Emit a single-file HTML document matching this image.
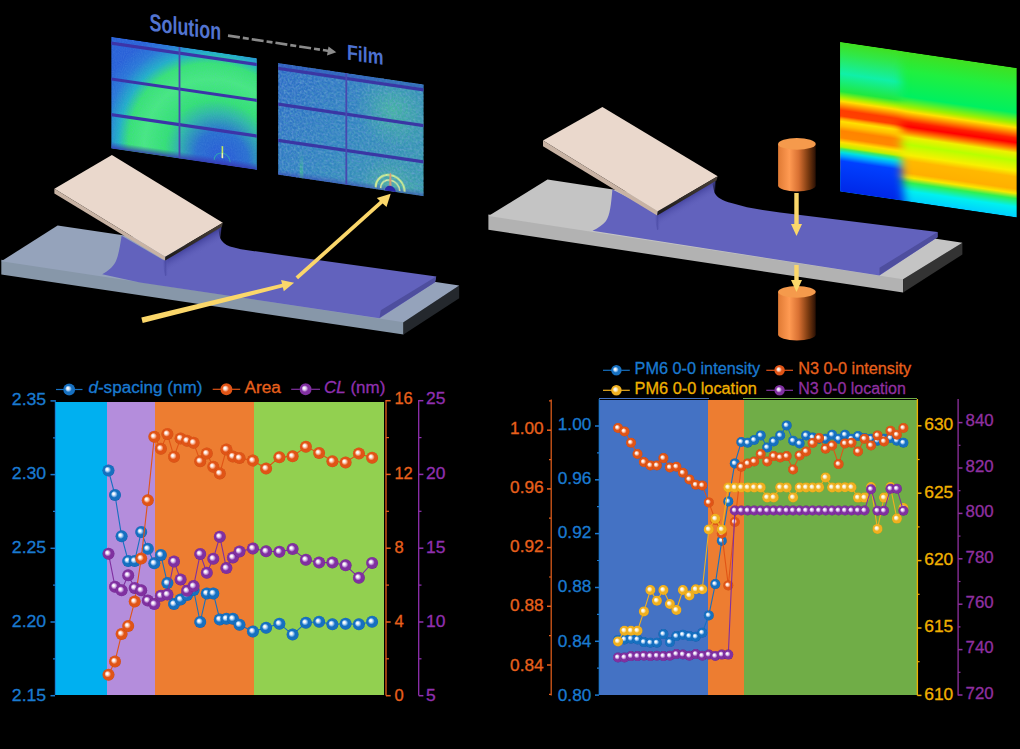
<!DOCTYPE html><html><head><meta charset="utf-8"><style>html,body{margin:0;padding:0;background:#000;}body{width:1020px;height:749px;overflow:hidden;}svg{display:block;}</style></head><body><svg width="1020" height="749" viewBox="0 0 1020 749"><rect width="1020" height="749" fill="#000"/><defs><radialGradient id="mB" cx="0.5" cy="0.5" r="0.5" fx="0.36" fy="0.38"><stop offset="0" stop-color="#ffffff"/><stop offset="0.16" stop-color="#ffffff" stop-opacity="0.95"/><stop offset="0.36" stop-color="#90c0f0"/><stop offset="0.56" stop-color="#1670c0"/><stop offset="0.9" stop-color="#1670c0"/><stop offset="1" stop-color="#0c5aa8"/></radialGradient><radialGradient id="mO" cx="0.5" cy="0.5" r="0.5" fx="0.36" fy="0.38"><stop offset="0" stop-color="#ffffff"/><stop offset="0.16" stop-color="#ffffff" stop-opacity="0.95"/><stop offset="0.36" stop-color="#f8b090"/><stop offset="0.56" stop-color="#e05416"/><stop offset="0.9" stop-color="#e05416"/><stop offset="1" stop-color="#c84810"/></radialGradient><radialGradient id="mP" cx="0.5" cy="0.5" r="0.5" fx="0.36" fy="0.38"><stop offset="0" stop-color="#ffffff"/><stop offset="0.16" stop-color="#ffffff" stop-opacity="0.95"/><stop offset="0.36" stop-color="#c8a0e0"/><stop offset="0.56" stop-color="#8030a0"/><stop offset="0.9" stop-color="#8030a0"/><stop offset="1" stop-color="#6a2088"/></radialGradient><radialGradient id="mG" cx="0.5" cy="0.5" r="0.5" fx="0.36" fy="0.38"><stop offset="0" stop-color="#ffffff"/><stop offset="0.16" stop-color="#ffffff" stop-opacity="0.95"/><stop offset="0.36" stop-color="#f8e0a0"/><stop offset="0.56" stop-color="#f0b020"/><stop offset="0.9" stop-color="#f0b020"/><stop offset="1" stop-color="#e0a010"/></radialGradient><linearGradient id="men1" gradientUnits="userSpaceOnUse" x1="193" y1="243.5" x2="199" y2="254"><stop offset="0" stop-color="#40409a" stop-opacity="0.95"/><stop offset="1" stop-color="#6262bd" stop-opacity="0"/></linearGradient><linearGradient id="fold1" x1="0" y1="0" x2="1" y2="0"><stop offset="0" stop-color="#6262bd" stop-opacity="0"/><stop offset="0.5" stop-color="#4a4aa4" stop-opacity="0.8"/><stop offset="1" stop-color="#6262bd" stop-opacity="0"/></linearGradient><linearGradient id="edg" x1="0" y1="0" x2="0" y2="1"><stop offset="0" stop-color="#4a4038"/><stop offset="1" stop-color="#1c1a1a"/></linearGradient><filter id="noise" x="0" y="0" width="100%" height="100%"><feTurbulence type="fractalNoise" baseFrequency="0.9" numOctaves="1" seed="3" result="t"/><feColorMatrix in="t" type="matrix" values="0 0 0 0 0.16  0 0 0 0 0.4  0 0 0 0 0.85  0 0 0 1.2 -0.45"/></filter><filter id="soft" x="-50%" y="-50%" width="200%" height="200%"><feGaussianBlur stdDeviation="0.5"/></filter><filter id="noiseG" x="0" y="0" width="100%" height="100%"><feTurbulence type="fractalNoise" baseFrequency="0.5" numOctaves="2" seed="7" result="t"/><feColorMatrix in="t" type="matrix" values="0 0 0 0 0.22  0 0 0 0 0.66  0 0 0 0 0.56  2.4 0 0 0 -1.0"/></filter><filter id="noiseB" x="0" y="0" width="100%" height="100%"><feTurbulence type="fractalNoise" baseFrequency="0.5" numOctaves="2" seed="11" result="t"/><feColorMatrix in="t" type="matrix" values="0 0 0 0 0.16  0 0 0 0 0.32  0 0 0 0 0.74  2.4 0 0 0 -1.0"/></filter><radialGradient id="ring1" gradientUnits="userSpaceOnUse" cx="111" cy="105" r="130"><stop offset="0" stop-color="#2a5ad8"/><stop offset="0.2" stop-color="#2a70d0"/><stop offset="0.34" stop-color="#30b8a8"/><stop offset="0.44" stop-color="#34e274"/><stop offset="0.6" stop-color="#48ea80"/><stop offset="0.72" stop-color="#38e474"/><stop offset="0.8" stop-color="#22b0c8"/><stop offset="0.9" stop-color="#2a78d8"/><stop offset="1" stop-color="#2a62d8"/></radialGradient><linearGradient id="botband" x1="0" y1="0" x2="0" y2="1"><stop offset="0" stop-color="#3838b8" stop-opacity="0"/><stop offset="1" stop-color="#3838b0" stop-opacity="0.9"/></linearGradient><linearGradient id="p2base" gradientUnits="userSpaceOnUse" x1="0" y1="0" x2="146" y2="112"><stop offset="0" stop-color="#2c6ac8"/><stop offset="0.5" stop-color="#3184c0"/><stop offset="1" stop-color="#3a9eac"/></linearGradient><radialGradient id="glow2" gradientUnits="userSpaceOnUse" cx="115" cy="30" r="38"><stop offset="0" stop-color="#50d090" stop-opacity="0.6"/><stop offset="1" stop-color="#50d090" stop-opacity="0"/></radialGradient><radialGradient id="glow3" gradientUnits="userSpaceOnUse" cx="112" cy="108" r="30"><stop offset="0" stop-color="#60c890" stop-opacity="0.5"/><stop offset="1" stop-color="#60c890" stop-opacity="0"/></radialGradient><linearGradient id="strk" x1="0" y1="0" x2="0" y2="1"><stop offset="0" stop-color="#40d080" stop-opacity="0"/><stop offset="1" stop-color="#40d080" stop-opacity="0.7"/></linearGradient><linearGradient id="men2" gradientUnits="userSpaceOnUse" x1="686" y1="197" x2="692" y2="207.5"><stop offset="0" stop-color="#40409a" stop-opacity="0.95"/><stop offset="1" stop-color="#6262bd" stop-opacity="0"/></linearGradient><linearGradient id="cyl" x1="0" y1="0" x2="1" y2="0"><stop offset="0" stop-color="#e07a34"/><stop offset="0.3" stop-color="#ff9a52"/><stop offset="0.55" stop-color="#d87032"/><stop offset="0.8" stop-color="#7a3a10"/><stop offset="1" stop-color="#2a1004"/></linearGradient><linearGradient id="hl" x1="0" y1="0" x2="0" y2="1"><stop offset="0" stop-color="#40e020"/><stop offset="0.076" stop-color="#30e848"/><stop offset="0.21" stop-color="#10f0a8"/><stop offset="0.33" stop-color="#20e840"/><stop offset="0.372" stop-color="#b0f000"/><stop offset="0.395" stop-color="#ffe000"/><stop offset="0.425" stop-color="#ff9000"/><stop offset="0.456" stop-color="#ff3c00"/><stop offset="0.494" stop-color="#ff4000"/><stop offset="0.512" stop-color="#ffa000"/><stop offset="0.53" stop-color="#ffe000"/><stop offset="0.56" stop-color="#ffc000"/><stop offset="0.593" stop-color="#ff8400"/><stop offset="0.64" stop-color="#ff8800"/><stop offset="0.67" stop-color="#ffe000"/><stop offset="0.7" stop-color="#c0f000"/><stop offset="0.714" stop-color="#40e860"/><stop offset="0.737" stop-color="#00e0e0"/><stop offset="0.762" stop-color="#00a0ff"/><stop offset="0.795" stop-color="#0040ff"/><stop offset="1" stop-color="#0028e8"/></linearGradient><linearGradient id="hr" x1="0" y1="0" x2="0" y2="1"><stop offset="0" stop-color="#40e020"/><stop offset="0.13" stop-color="#20f040"/><stop offset="0.3" stop-color="#00f060"/><stop offset="0.37" stop-color="#a0f000"/><stop offset="0.4" stop-color="#ffe000"/><stop offset="0.43" stop-color="#ff9000"/><stop offset="0.47" stop-color="#ff2000"/><stop offset="0.5" stop-color="#ff0000"/><stop offset="0.54" stop-color="#ff8000"/><stop offset="0.57" stop-color="#f0f000"/><stop offset="0.62" stop-color="#b8ff00"/><stop offset="0.69" stop-color="#f8f000"/><stop offset="0.73" stop-color="#ffb800"/><stop offset="0.81" stop-color="#ffb000"/><stop offset="0.84" stop-color="#f8e800"/><stop offset="0.875" stop-color="#30f050"/><stop offset="0.93" stop-color="#00f0f0"/><stop offset="1" stop-color="#00d0ff"/></linearGradient><linearGradient id="hm" gradientUnits="userSpaceOnUse" x1="57" y1="0" x2="67" y2="-0.4"><stop offset="0" stop-color="#fff"/><stop offset="1" stop-color="#000"/></linearGradient><filter id="hblur" x="-20%" y="-20%" width="140%" height="140%"><feGaussianBlur stdDeviation="4.5"/></filter><mask id="hmask" maskUnits="userSpaceOnUse" x="-10" y="-10" width="196.7" height="169.5"><path d="M-10,-10 L61,-10 L61,92.7 C61,119.6 63,128.6 65,159.5 L-10,159.5 Z" fill="#fff" filter="url(#hblur)"/></mask></defs><polygon points="1.3,259.8 403.5,320.7 403.5,334.6 1.3,274.5" fill="#8797a9"/>
<polygon points="403.5,322.2 459.2,285.5 459.2,298.2 403.5,334.6" fill="#24282d"/>
<polygon points="57.6,225.4 459.2,285.5 403.5,322.2 1.3,261.3" fill="#95a3bb"/>
<path d="M102.2,274.2 C108,271 113,267 115.5,262 C118.5,256 120,246 121.6,235.8 L165,261 L219,229 L218.6,230.2 C219.3,234 219.6,236 220.2,238.2 C222,242 225,244.5 230,246.6 L241,249.3 L436.2,276.6 L435,282.3 L379.5,318.2 L140,282.4 Z" fill="#6262bd"/>
<polygon points="380.8,310.3 436.2,276.6 435.0,282.3 379.5,317.8" fill="#4e4e9e"/>
<polygon points="164.5,259 221.5,226 220.5,240 166,277" fill="url(#men1)"/>
<path d="M162,260 L168,258 L168.5,275 L165,276 Z" fill="url(#fold1)"/>
<polygon points="111.9,155.0 222.8,222.7 165.2,256.8 54.4,188.8" fill="#ead8cc"/>
<polygon points="54.4,188.8 165.2,256.8 165.2,260.6 54.4,193.6" fill="#c8b3a4"/>
<polygon points="165.2,256.8 222.8,222.7 221.9,226.8 165.2,260.6" fill="url(#edg)"/>
<polygon points="142.7,323.0 141.3,317.6 283.1,283.5 283.9,287.1" fill="#fbd76a"/>
<polygon points="294.1,282.7 283.8,291.2 281.1,280.0" fill="#fbd76a"/>
<line x1="296.8" y1="277.9" x2="383" y2="200.7" stroke="#fbd76a" stroke-width="3.8"/>
<polygon points="390.7,193.8 386.5,207 376.8,198" fill="#fbd76a"/>
<g transform="matrix(1,0.1469,0,1,111.2,36.8)">
<clipPath id="pn1c"><rect x="0" y="0" width="145.7" height="111.7"/></clipPath>
<g clip-path="url(#pn1c)">
<rect x="0" y="0" width="145.7" height="111.7" fill="url(#ring1)"/>
<rect x="0" y="0" width="145.7" height="111.7" filter="url(#noise)" opacity="0.4"/>
<rect x="0" y="104.7" width="145.7" height="7" fill="url(#botband)"/>
<rect x="0" y="4.699999999999999" width="145.7" height="3.2" fill="#3c34a8"/>
<rect x="0" y="40.6" width="145.7" height="3.2" fill="#3c34a8"/>
<rect x="0" y="76.30000000000001" width="145.7" height="3.2" fill="#3c34a8"/>
<rect x="67.4" y="0" width="1.8" height="111.7" fill="#4848b0"/>
<path d="M103,108 A8,8 0 0 1 119,108" fill="none" stroke="#30c8a0" stroke-width="1" opacity="0.6"/>
<rect x="110.4" y="93" width="1.6" height="12" fill="#c0e860"/>
<rect x="110.6" y="100" width="1.2" height="5" fill="#f0f0c0"/>
</g></g>
<g transform="matrix(1,0.1477,0,1,278.1,63.0)">
<clipPath id="pn2c"><rect x="0" y="0" width="145.6" height="111.8"/></clipPath>
<g clip-path="url(#pn2c)">
<rect x="0" y="0" width="145.6" height="111.8" fill="url(#p2base)"/>
<rect x="0" y="0" width="145.6" height="111.8" fill="url(#glow2)"/>
<rect x="0" y="0" width="145.6" height="111.8" fill="url(#glow3)"/>
<rect x="21.5" y="84" width="3.5" height="28" fill="url(#strk)" filter="url(#soft)"/>
<rect x="0" y="0" width="145.6" height="111.8" filter="url(#noiseG)" opacity="0.45"/>
<rect x="0" y="0" width="145.6" height="111.8" filter="url(#noiseB)" opacity="0.6"/>
<rect x="0" y="105.8" width="145.6" height="6" fill="url(#botband)" opacity="0.6"/>
<rect x="0" y="0" width="145.6" height="4" fill="#2c50b8" opacity="0.5"/>
<rect x="0" y="3.8000000000000003" width="145.6" height="3.2" fill="#3a36a4"/>
<rect x="0" y="39.5" width="145.6" height="3.2" fill="#3a36a4"/>
<rect x="0" y="75.80000000000001" width="145.6" height="3.2" fill="#3a36a4"/>
<rect x="67.3" y="0" width="1.8" height="111.8" fill="#4848b0"/>
<g filter="url(#soft)"><path d="M97.6,110 A14.4,14.4 0 0 1 126.4,110" fill="none" stroke="#e8f890" stroke-width="2" opacity="0.85"/><path d="M102.5,110 A9.5,9.5 0 0 1 121.5,110" fill="none" stroke="#f0f8a0" stroke-width="1.6" opacity="0.85"/></g>
<path d="M111,110 L111.4,95 L112.4,93 L113.2,95 L113.4,110 Z" fill="#d09878"/>
<path d="M106.7,111.8 A5.5,5.5 0 0 1 117.7,111.8 Z" fill="#2c28a8"/>
</g></g>
<g transform="matrix(1,0.132,0,1.19,149.6,10)"><text x="0" y="17.3" font-family='"Liberation Sans", sans-serif' font-weight="bold" font-size="20.5" fill="#5274d0" textLength="71.5" lengthAdjust="spacingAndGlyphs">Solution</text></g>
<g transform="matrix(1,0.147,0,1.08,347,10)"><text x="0" y="45.9" font-family='"Liberation Sans", sans-serif' font-weight="bold" font-size="20" fill="#4c70d0" textLength="36.5" lengthAdjust="spacingAndGlyphs">Film</text></g>
<line x1="228" y1="35.6" x2="329" y2="51" stroke="#8a8a8a" stroke-width="2.6" stroke-dasharray="12,3,6,3"/>
<polygon points="336.3,52.2 327,55.5 328.5,46.5" fill="#8c8c8c"/>
<polygon points="488.4,214.5 903.1,277.8 903.1,292.6 488.4,229.8" fill="#b2b2b2"/>
<polygon points="903.1,279.3 962.4,242.7 962.4,254.4 903.1,292.6" fill="#333333"/>
<polygon points="547.5,179.5 962.4,242.7 903.1,279.3 488.4,216.0" fill="#c4c4c4"/>
<path d="M592.5,230.8 C598,228 603,225 606,221 C610,215 611,205 612.4,189.5 L657.2,212.2 L714,180 L712.5,184 C713.5,188 714,191 714.5,192.7 C716,195.5 717.5,197 719.6,198.2 C724,201 727,202 731.4,202.9 L747,207.3 L762.7,210 L780,212.4 L937.5,232.1 L937.5,237.2 L879.5,275.5 Z" fill="#6262bd"/>
<polygon points="879.5,267.8 937.5,232.1 937.5,237.2 879.5,275.0" fill="#4e4e9e"/>
<polygon points="656.8,214 715.5,179.5 715,195 658,231" fill="url(#men2)"/>
<path d="M654,214 L660,212 L660.5,229 L657,230 Z" fill="url(#fold1)"/>
<polygon points="602.4,107.1 717.7,176.3 657.7,211.2 543.0,140.6" fill="#ead8cc"/>
<polygon points="543.0,140.6 657.7,211.2 657.2,215.6 543.0,146.2" fill="#c8b3a4"/>
<polygon points="657.7,211.2 717.7,176.3 716.5,180.6 657.2,215.6" fill="url(#edg)"/>
<path d="M778.1,143.9 L778.1,185.6 A18.80000000000001,5.9 0 0 0 815.7,185.6 L815.7,143.9 Z" fill="url(#cyl)"/>
<ellipse cx="796.9000000000001" cy="143.9" rx="18.80000000000001" ry="5.9" fill="#f59a4c"/>
<path d="M778.1,291.8 L778.1,334.5 A18.80000000000001,5.9 0 0 0 815.7,334.5 L815.7,291.8 Z" fill="url(#cyl)"/>
<ellipse cx="796.9000000000001" cy="291.8" rx="18.80000000000001" ry="5.9" fill="#f59a4c"/>
<rect x="794.3" y="193" width="4.4" height="32" fill="#fbd76a"/>
<polygon points="791,224 802,224 796.5,236" fill="#fbd76a"/>
<rect x="794.3" y="265" width="4.4" height="16" fill="#fbd76a"/>
<polygon points="791,280 802,280 796.5,292" fill="#fbd76a"/>
<g transform="matrix(1,0.1466,0,1,840.1,42.0)">
<clipPath id="hm1c"><rect x="0" y="0" width="176.7" height="149.5"/></clipPath>
<g clip-path="url(#hm1c)">
<rect x="0" y="0" width="176.7" height="149.5" fill="url(#hr)"/>
<rect x="0" y="0" width="176.7" height="149.5" fill="url(#hl)" mask="url(#hmask)"/>
</g></g>
<g shape-rendering="crispEdges"><rect x="55" y="402" width="53" height="293" fill="#00b0f0"/><rect x="107" y="402" width="48" height="293" fill="#b48ddc"/><rect x="154.5" y="402" width="99.5" height="293" fill="#ed7d31"/><rect x="253.5" y="402" width="130.5" height="293" fill="#92d050"/></g>
<line x1="55.3" y1="400" x2="55.3" y2="695" stroke="#1a7ad0" stroke-width="1"/>
<line x1="50.5" y1="400.9" x2="55" y2="400.9" stroke="#1a7ad0" stroke-width="1.5"/>
<text x="46.2" y="404.6561016949152" font-family='"Liberation Sans", sans-serif' font-size="16" fill="#1a7ad0" stroke="#1a7ad0" stroke-width="0.3" text-anchor="end" textLength="34.4" lengthAdjust="spacingAndGlyphs" font-weight="normal">2.35</text>
<line x1="50.5" y1="474.6" x2="55" y2="474.6" stroke="#1a7ad0" stroke-width="1.5"/>
<text x="46.2" y="478.8557627118644" font-family='"Liberation Sans", sans-serif' font-size="16" fill="#1a7ad0" stroke="#1a7ad0" stroke-width="0.3" text-anchor="end" textLength="34.4" lengthAdjust="spacingAndGlyphs" font-weight="normal">2.30</text>
<line x1="50.5" y1="548.3" x2="55" y2="548.3" stroke="#1a7ad0" stroke-width="1.5"/>
<text x="46.2" y="553.0554237288135" font-family='"Liberation Sans", sans-serif' font-size="16" fill="#1a7ad0" stroke="#1a7ad0" stroke-width="0.3" text-anchor="end" textLength="34.4" lengthAdjust="spacingAndGlyphs" font-weight="normal">2.25</text>
<line x1="50.5" y1="622.0" x2="55" y2="622.0" stroke="#1a7ad0" stroke-width="1.5"/>
<text x="46.2" y="627.2550847457627" font-family='"Liberation Sans", sans-serif' font-size="16" fill="#1a7ad0" stroke="#1a7ad0" stroke-width="0.3" text-anchor="end" textLength="34.4" lengthAdjust="spacingAndGlyphs" font-weight="normal">2.20</text>
<line x1="50.5" y1="695.7" x2="55" y2="695.7" stroke="#1a7ad0" stroke-width="1.5"/>
<text x="46.2" y="701.4547457627119" font-family='"Liberation Sans", sans-serif' font-size="16" fill="#1a7ad0" stroke="#1a7ad0" stroke-width="0.3" text-anchor="end" textLength="34.4" lengthAdjust="spacingAndGlyphs" font-weight="normal">2.15</text>
<line x1="53" y1="437.8" x2="55" y2="437.8" stroke="#1a7ad0" stroke-width="1.2"/>
<line x1="53" y1="511.4" x2="55" y2="511.4" stroke="#1a7ad0" stroke-width="1.2"/>
<line x1="53" y1="585.1" x2="55" y2="585.1" stroke="#1a7ad0" stroke-width="1.2"/>
<line x1="53" y1="658.8" x2="55" y2="658.8" stroke="#1a7ad0" stroke-width="1.2"/>
<line x1="386" y1="400" x2="386" y2="695.5" stroke="#e8601c" stroke-width="1.3"/>
<line x1="386" y1="400.7" x2="390.7" y2="400.7" stroke="#e8601c" stroke-width="1.5"/>
<text x="394.4" y="404.45474576271187" font-family='"Liberation Sans", sans-serif' font-size="16" fill="#e8601c" stroke="#e8601c" stroke-width="0.3" text-anchor="start" textLength="18.3" lengthAdjust="spacingAndGlyphs" font-weight="normal">16</text>
<line x1="386" y1="474.4" x2="390.7" y2="474.4" stroke="#e8601c" stroke-width="1.5"/>
<text x="394.4" y="478.70474576271187" font-family='"Liberation Sans", sans-serif' font-size="16" fill="#e8601c" stroke="#e8601c" stroke-width="0.3" text-anchor="start" textLength="18.3" lengthAdjust="spacingAndGlyphs" font-weight="normal">12</text>
<line x1="386" y1="548.2" x2="390.7" y2="548.2" stroke="#e8601c" stroke-width="1.5"/>
<text x="394.4" y="552.9547457627119" font-family='"Liberation Sans", sans-serif' font-size="16" fill="#e8601c" stroke="#e8601c" stroke-width="0.3" text-anchor="start" textLength="9.2" lengthAdjust="spacingAndGlyphs" font-weight="normal">8</text>
<line x1="386" y1="622.0" x2="390.7" y2="622.0" stroke="#e8601c" stroke-width="1.5"/>
<text x="394.4" y="627.2047457627119" font-family='"Liberation Sans", sans-serif' font-size="16" fill="#e8601c" stroke="#e8601c" stroke-width="0.3" text-anchor="start" textLength="9.2" lengthAdjust="spacingAndGlyphs" font-weight="normal">4</text>
<line x1="386" y1="695.7" x2="390.7" y2="695.7" stroke="#e8601c" stroke-width="1.5"/>
<text x="394.4" y="701.4547457627119" font-family='"Liberation Sans", sans-serif' font-size="16" fill="#e8601c" stroke="#e8601c" stroke-width="0.3" text-anchor="start" textLength="9.2" lengthAdjust="spacingAndGlyphs" font-weight="normal">0</text>
<line x1="386" y1="437.6" x2="389" y2="437.6" stroke="#e8601c" stroke-width="1.2"/>
<line x1="386" y1="511.3" x2="389" y2="511.3" stroke="#e8601c" stroke-width="1.2"/>
<line x1="386" y1="585.1" x2="389" y2="585.1" stroke="#e8601c" stroke-width="1.2"/>
<line x1="386" y1="658.8" x2="389" y2="658.8" stroke="#e8601c" stroke-width="1.2"/>
<line x1="418.7" y1="400" x2="418.7" y2="695.5" stroke="#9030b0" stroke-width="1.3"/>
<line x1="418.7" y1="400.7" x2="423.4" y2="400.7" stroke="#9030b0" stroke-width="1.5"/>
<text x="426" y="404.45474576271187" font-family='"Liberation Sans", sans-serif' font-size="16" fill="#9030b0" stroke="#9030b0" stroke-width="0.3" text-anchor="start" textLength="19.4" lengthAdjust="spacingAndGlyphs" font-weight="normal">25</text>
<line x1="418.7" y1="474.4" x2="423.4" y2="474.4" stroke="#9030b0" stroke-width="1.5"/>
<text x="426" y="478.70474576271187" font-family='"Liberation Sans", sans-serif' font-size="16" fill="#9030b0" stroke="#9030b0" stroke-width="0.3" text-anchor="start" textLength="19.4" lengthAdjust="spacingAndGlyphs" font-weight="normal">20</text>
<line x1="418.7" y1="548.2" x2="423.4" y2="548.2" stroke="#9030b0" stroke-width="1.5"/>
<text x="426" y="552.9547457627119" font-family='"Liberation Sans", sans-serif' font-size="16" fill="#9030b0" stroke="#9030b0" stroke-width="0.3" text-anchor="start" textLength="19.4" lengthAdjust="spacingAndGlyphs" font-weight="normal">15</text>
<line x1="418.7" y1="622.0" x2="423.4" y2="622.0" stroke="#9030b0" stroke-width="1.5"/>
<text x="426" y="627.2047457627119" font-family='"Liberation Sans", sans-serif' font-size="16" fill="#9030b0" stroke="#9030b0" stroke-width="0.3" text-anchor="start" textLength="19.4" lengthAdjust="spacingAndGlyphs" font-weight="normal">10</text>
<line x1="418.7" y1="695.7" x2="423.4" y2="695.7" stroke="#9030b0" stroke-width="1.5"/>
<text x="426" y="701.4547457627119" font-family='"Liberation Sans", sans-serif' font-size="16" fill="#9030b0" stroke="#9030b0" stroke-width="0.3" text-anchor="start" textLength="9.7" lengthAdjust="spacingAndGlyphs" font-weight="normal">5</text>
<line x1="418.7" y1="437.6" x2="421.5" y2="437.6" stroke="#9030b0" stroke-width="1.2"/>
<line x1="418.7" y1="511.3" x2="421.5" y2="511.3" stroke="#9030b0" stroke-width="1.2"/>
<line x1="418.7" y1="585.1" x2="421.5" y2="585.1" stroke="#9030b0" stroke-width="1.2"/>
<line x1="418.7" y1="658.8" x2="421.5" y2="658.8" stroke="#9030b0" stroke-width="1.2"/>
<polyline points="108.5,470.5 115.0,495.0 121.6,536.2 128.2,560.9 134.7,560.9 141.2,532.0 147.8,548.8 154.3,563.3 160.9,554.9 167.4,583.1 174.0,604.0 180.6,599.4 187.1,595.0 193.6,590.0 200.2,622.0 206.8,593.4 213.3,593.4 219.8,619.4 226.4,618.7 232.9,618.7 239.5,624.7 252.9,631.4 266.1,627.7 279.4,623.7 292.6,634.6 305.9,622.8 319.1,621.8 332.4,624.3 345.6,623.7 358.9,624.3 372.1,621.8" fill="none" stroke="#1670c0" stroke-width="1.1"/>
<circle cx="108.5" cy="470.5" r="6" fill="url(#mB)"/>
<circle cx="115.0" cy="495.0" r="6" fill="url(#mB)"/>
<circle cx="121.6" cy="536.2" r="6" fill="url(#mB)"/>
<circle cx="128.2" cy="560.9" r="6" fill="url(#mB)"/>
<circle cx="134.7" cy="560.9" r="6" fill="url(#mB)"/>
<circle cx="141.2" cy="532.0" r="6" fill="url(#mB)"/>
<circle cx="147.8" cy="548.8" r="6" fill="url(#mB)"/>
<circle cx="154.3" cy="563.3" r="6" fill="url(#mB)"/>
<circle cx="160.9" cy="554.9" r="6" fill="url(#mB)"/>
<circle cx="167.4" cy="583.1" r="6" fill="url(#mB)"/>
<circle cx="174.0" cy="604.0" r="6" fill="url(#mB)"/>
<circle cx="180.6" cy="599.4" r="6" fill="url(#mB)"/>
<circle cx="187.1" cy="595.0" r="6" fill="url(#mB)"/>
<circle cx="193.6" cy="590.0" r="6" fill="url(#mB)"/>
<circle cx="200.2" cy="622.0" r="6" fill="url(#mB)"/>
<circle cx="206.8" cy="593.4" r="6" fill="url(#mB)"/>
<circle cx="213.3" cy="593.4" r="6" fill="url(#mB)"/>
<circle cx="219.8" cy="619.4" r="6" fill="url(#mB)"/>
<circle cx="226.4" cy="618.7" r="6" fill="url(#mB)"/>
<circle cx="232.9" cy="618.7" r="6" fill="url(#mB)"/>
<circle cx="239.5" cy="624.7" r="6" fill="url(#mB)"/>
<circle cx="252.9" cy="631.4" r="6" fill="url(#mB)"/>
<circle cx="266.1" cy="627.7" r="6" fill="url(#mB)"/>
<circle cx="279.4" cy="623.7" r="6" fill="url(#mB)"/>
<circle cx="292.6" cy="634.6" r="6" fill="url(#mB)"/>
<circle cx="305.9" cy="622.8" r="6" fill="url(#mB)"/>
<circle cx="319.1" cy="621.8" r="6" fill="url(#mB)"/>
<circle cx="332.4" cy="624.3" r="6" fill="url(#mB)"/>
<circle cx="345.6" cy="623.7" r="6" fill="url(#mB)"/>
<circle cx="358.9" cy="624.3" r="6" fill="url(#mB)"/>
<circle cx="372.1" cy="621.8" r="6" fill="url(#mB)"/>
<polyline points="108.5,674.8 115.0,661.4 121.6,634.0 128.2,626.0 134.7,601.5 141.2,558.5 147.8,500.3 154.3,436.8 160.9,448.7 167.4,434.0 174.0,456.7 180.6,438.4 187.1,440.7 193.6,442.7 200.2,461.2 206.8,453.5 213.3,466.7 219.8,473.4 226.4,449.4 232.9,456.5 239.5,458.0 252.9,460.6 266.1,468.5 279.4,457.3 292.6,456.3 305.9,446.8 319.1,453.0 332.4,461.2 345.6,462.5 358.9,453.6 372.1,457.7" fill="none" stroke="#e05416" stroke-width="1.1"/>
<circle cx="108.5" cy="674.8" r="6" fill="url(#mO)"/>
<circle cx="115.0" cy="661.4" r="6" fill="url(#mO)"/>
<circle cx="121.6" cy="634.0" r="6" fill="url(#mO)"/>
<circle cx="128.2" cy="626.0" r="6" fill="url(#mO)"/>
<circle cx="134.7" cy="601.5" r="6" fill="url(#mO)"/>
<circle cx="141.2" cy="558.5" r="6" fill="url(#mO)"/>
<circle cx="147.8" cy="500.3" r="6" fill="url(#mO)"/>
<circle cx="154.3" cy="436.8" r="6" fill="url(#mO)"/>
<circle cx="160.9" cy="448.7" r="6" fill="url(#mO)"/>
<circle cx="167.4" cy="434.0" r="6" fill="url(#mO)"/>
<circle cx="174.0" cy="456.7" r="6" fill="url(#mO)"/>
<circle cx="180.6" cy="438.4" r="6" fill="url(#mO)"/>
<circle cx="187.1" cy="440.7" r="6" fill="url(#mO)"/>
<circle cx="193.6" cy="442.7" r="6" fill="url(#mO)"/>
<circle cx="200.2" cy="461.2" r="6" fill="url(#mO)"/>
<circle cx="206.8" cy="453.5" r="6" fill="url(#mO)"/>
<circle cx="213.3" cy="466.7" r="6" fill="url(#mO)"/>
<circle cx="219.8" cy="473.4" r="6" fill="url(#mO)"/>
<circle cx="226.4" cy="449.4" r="6" fill="url(#mO)"/>
<circle cx="232.9" cy="456.5" r="6" fill="url(#mO)"/>
<circle cx="239.5" cy="458.0" r="6" fill="url(#mO)"/>
<circle cx="252.9" cy="460.6" r="6" fill="url(#mO)"/>
<circle cx="266.1" cy="468.5" r="6" fill="url(#mO)"/>
<circle cx="279.4" cy="457.3" r="6" fill="url(#mO)"/>
<circle cx="292.6" cy="456.3" r="6" fill="url(#mO)"/>
<circle cx="305.9" cy="446.8" r="6" fill="url(#mO)"/>
<circle cx="319.1" cy="453.0" r="6" fill="url(#mO)"/>
<circle cx="332.4" cy="461.2" r="6" fill="url(#mO)"/>
<circle cx="345.6" cy="462.5" r="6" fill="url(#mO)"/>
<circle cx="358.9" cy="453.6" r="6" fill="url(#mO)"/>
<circle cx="372.1" cy="457.7" r="6" fill="url(#mO)"/>
<polyline points="108.5,553.7 115.0,586.7 121.6,590.3 128.2,575.3 134.7,587.9 141.2,590.3 147.8,600.5 154.3,604.1 160.9,595.7 167.4,594.5 174.0,561.4 180.6,579.4 187.1,590.8 193.6,586.1 200.2,554.0 206.8,572.8 213.3,558.7 219.8,536.7 226.4,568.1 232.9,557.4 239.5,551.4 252.9,548.4 266.1,551.3 279.4,551.7 292.6,549.1 305.9,559.7 319.1,562.6 332.4,562.6 345.6,565.3 358.9,577.7 372.1,563.0" fill="none" stroke="#8030a0" stroke-width="1.1"/>
<circle cx="108.5" cy="553.7" r="6" fill="url(#mP)"/>
<circle cx="115.0" cy="586.7" r="6" fill="url(#mP)"/>
<circle cx="121.6" cy="590.3" r="6" fill="url(#mP)"/>
<circle cx="128.2" cy="575.3" r="6" fill="url(#mP)"/>
<circle cx="134.7" cy="587.9" r="6" fill="url(#mP)"/>
<circle cx="141.2" cy="590.3" r="6" fill="url(#mP)"/>
<circle cx="147.8" cy="600.5" r="6" fill="url(#mP)"/>
<circle cx="154.3" cy="604.1" r="6" fill="url(#mP)"/>
<circle cx="160.9" cy="595.7" r="6" fill="url(#mP)"/>
<circle cx="167.4" cy="594.5" r="6" fill="url(#mP)"/>
<circle cx="174.0" cy="561.4" r="6" fill="url(#mP)"/>
<circle cx="180.6" cy="579.4" r="6" fill="url(#mP)"/>
<circle cx="187.1" cy="590.8" r="6" fill="url(#mP)"/>
<circle cx="193.6" cy="586.1" r="6" fill="url(#mP)"/>
<circle cx="200.2" cy="554.0" r="6" fill="url(#mP)"/>
<circle cx="206.8" cy="572.8" r="6" fill="url(#mP)"/>
<circle cx="213.3" cy="558.7" r="6" fill="url(#mP)"/>
<circle cx="219.8" cy="536.7" r="6" fill="url(#mP)"/>
<circle cx="226.4" cy="568.1" r="6" fill="url(#mP)"/>
<circle cx="232.9" cy="557.4" r="6" fill="url(#mP)"/>
<circle cx="239.5" cy="551.4" r="6" fill="url(#mP)"/>
<circle cx="252.9" cy="548.4" r="6" fill="url(#mP)"/>
<circle cx="266.1" cy="551.3" r="6" fill="url(#mP)"/>
<circle cx="279.4" cy="551.7" r="6" fill="url(#mP)"/>
<circle cx="292.6" cy="549.1" r="6" fill="url(#mP)"/>
<circle cx="305.9" cy="559.7" r="6" fill="url(#mP)"/>
<circle cx="319.1" cy="562.6" r="6" fill="url(#mP)"/>
<circle cx="332.4" cy="562.6" r="6" fill="url(#mP)"/>
<circle cx="345.6" cy="565.3" r="6" fill="url(#mP)"/>
<circle cx="358.9" cy="577.7" r="6" fill="url(#mP)"/>
<circle cx="372.1" cy="563.0" r="6" fill="url(#mP)"/>
<line x1="56" y1="389.5" x2="82.5" y2="389.5" stroke="#1670c0" stroke-width="1.2"/>
<circle cx="69.2" cy="389.5" r="6" fill="url(#mB)"/>
<text x="88.4" y="392.6" font-family='"Liberation Sans", sans-serif' font-size="16" fill="#1a7ad0" stroke="#1a7ad0" stroke-width="0.3" textLength="114" lengthAdjust="spacingAndGlyphs"><tspan font-style="italic">d</tspan>-spacing (nm)</text>
<line x1="212.7" y1="389.3" x2="240.2" y2="389.3" stroke="#e05416" stroke-width="1.2"/>
<circle cx="226.4" cy="389.3" r="6" fill="url(#mO)"/>
<text x="244.6" y="392.8" font-family='"Liberation Sans", sans-serif' font-size="16" fill="#e8601c" stroke="#e8601c" stroke-width="0.3" text-anchor="start" textLength="36.3" lengthAdjust="spacingAndGlyphs" font-weight="normal">Area</text>
<line x1="291.2" y1="389.3" x2="320" y2="389.3" stroke="#8030a0" stroke-width="1.2"/>
<circle cx="305.6" cy="389.3" r="6" fill="url(#mP)"/>
<text x="324" y="392.8" font-family='"Liberation Sans", sans-serif' font-size="16" fill="#9030b0" stroke="#9030b0" stroke-width="0.3" textLength="61.3" lengthAdjust="spacingAndGlyphs"><tspan font-style="italic">CL</tspan> (nm)</text>
<g shape-rendering="crispEdges"><rect x="599" y="400" width="110" height="295" fill="#4472c4"/><rect x="708" y="400" width="36" height="295" fill="#ed7d31"/><rect x="743.5" y="400" width="173" height="295" fill="#70ad47"/><rect x="599" y="398" width="110" height="1" fill="#4472c4"/><rect x="743" y="398" width="174" height="1" fill="#70ad47"/></g>
<line x1="599.2" y1="399" x2="599.2" y2="695" stroke="#1a7ad0" stroke-width="1"/>
<line x1="595" y1="426.0" x2="599" y2="426.0" stroke="#1a7ad0" stroke-width="1.5"/>
<text x="591.3" y="429.92627118644066" font-family='"Liberation Sans", sans-serif' font-size="16" fill="#1a7ad0" stroke="#1a7ad0" stroke-width="0.3" text-anchor="end" textLength="33.5" lengthAdjust="spacingAndGlyphs" font-weight="normal">1.00</text>
<line x1="595" y1="479.8" x2="599" y2="479.8" stroke="#1a7ad0" stroke-width="1.5"/>
<text x="591.3" y="484.11115254237285" font-family='"Liberation Sans", sans-serif' font-size="16" fill="#1a7ad0" stroke="#1a7ad0" stroke-width="0.3" text-anchor="end" textLength="33.5" lengthAdjust="spacingAndGlyphs" font-weight="normal">0.96</text>
<line x1="595" y1="533.6" x2="599" y2="533.6" stroke="#1a7ad0" stroke-width="1.5"/>
<text x="591.3" y="538.296033898305" font-family='"Liberation Sans", sans-serif' font-size="16" fill="#1a7ad0" stroke="#1a7ad0" stroke-width="0.3" text-anchor="end" textLength="33.5" lengthAdjust="spacingAndGlyphs" font-weight="normal">0.92</text>
<line x1="595" y1="587.5" x2="599" y2="587.5" stroke="#1a7ad0" stroke-width="1.5"/>
<text x="591.3" y="592.4809152542373" font-family='"Liberation Sans", sans-serif' font-size="16" fill="#1a7ad0" stroke="#1a7ad0" stroke-width="0.3" text-anchor="end" textLength="33.5" lengthAdjust="spacingAndGlyphs" font-weight="normal">0.88</text>
<line x1="595" y1="641.3" x2="599" y2="641.3" stroke="#1a7ad0" stroke-width="1.5"/>
<text x="591.3" y="646.6657966101694" font-family='"Liberation Sans", sans-serif' font-size="16" fill="#1a7ad0" stroke="#1a7ad0" stroke-width="0.3" text-anchor="end" textLength="33.5" lengthAdjust="spacingAndGlyphs" font-weight="normal">0.84</text>
<line x1="595" y1="695.1" x2="599" y2="695.1" stroke="#1a7ad0" stroke-width="1.5"/>
<text x="591.3" y="700.8506779661017" font-family='"Liberation Sans", sans-serif' font-size="16" fill="#1a7ad0" stroke="#1a7ad0" stroke-width="0.3" text-anchor="end" textLength="33.5" lengthAdjust="spacingAndGlyphs" font-weight="normal">0.80</text>
<line x1="597" y1="668.2" x2="599" y2="668.2" stroke="#1a7ad0" stroke-width="1.2"/>
<line x1="597" y1="614.4" x2="599" y2="614.4" stroke="#1a7ad0" stroke-width="1.2"/>
<line x1="597" y1="560.5" x2="599" y2="560.5" stroke="#1a7ad0" stroke-width="1.2"/>
<line x1="597" y1="506.7" x2="599" y2="506.7" stroke="#1a7ad0" stroke-width="1.2"/>
<line x1="597" y1="452.9" x2="599" y2="452.9" stroke="#1a7ad0" stroke-width="1.2"/>
<line x1="551.2" y1="399.5" x2="551.2" y2="695.5" stroke="#e8601c" stroke-width="1.2"/>
<line x1="547" y1="430.2" x2="551" y2="430.2" stroke="#e8601c" stroke-width="1.5"/>
<text x="543.6" y="434.15474576271185" font-family='"Liberation Sans", sans-serif' font-size="16" fill="#e8601c" stroke="#e8601c" stroke-width="0.3" text-anchor="end" textLength="33.5" lengthAdjust="spacingAndGlyphs" font-weight="normal">1.00</text>
<line x1="547" y1="488.9" x2="551" y2="488.9" stroke="#e8601c" stroke-width="1.5"/>
<text x="543.6" y="493.25271186440676" font-family='"Liberation Sans", sans-serif' font-size="16" fill="#e8601c" stroke="#e8601c" stroke-width="0.3" text-anchor="end" textLength="33.5" lengthAdjust="spacingAndGlyphs" font-weight="normal">0.96</text>
<line x1="547" y1="547.6" x2="551" y2="547.6" stroke="#e8601c" stroke-width="1.5"/>
<text x="543.6" y="552.3506779661017" font-family='"Liberation Sans", sans-serif' font-size="16" fill="#e8601c" stroke="#e8601c" stroke-width="0.3" text-anchor="end" textLength="33.5" lengthAdjust="spacingAndGlyphs" font-weight="normal">0.92</text>
<line x1="547" y1="606.3" x2="551" y2="606.3" stroke="#e8601c" stroke-width="1.5"/>
<text x="543.6" y="611.4486440677965" font-family='"Liberation Sans", sans-serif' font-size="16" fill="#e8601c" stroke="#e8601c" stroke-width="0.3" text-anchor="end" textLength="33.5" lengthAdjust="spacingAndGlyphs" font-weight="normal">0.88</text>
<line x1="547" y1="665.0" x2="551" y2="665.0" stroke="#e8601c" stroke-width="1.5"/>
<text x="543.6" y="670.5466101694915" font-family='"Liberation Sans", sans-serif' font-size="16" fill="#e8601c" stroke="#e8601c" stroke-width="0.3" text-anchor="end" textLength="33.5" lengthAdjust="spacingAndGlyphs" font-weight="normal">0.84</text>
<line x1="549" y1="459.6" x2="551" y2="459.6" stroke="#e8601c" stroke-width="1.2"/>
<line x1="549" y1="518.2" x2="551" y2="518.2" stroke="#e8601c" stroke-width="1.2"/>
<line x1="549" y1="577.0" x2="551" y2="577.0" stroke="#e8601c" stroke-width="1.2"/>
<line x1="549" y1="635.6" x2="551" y2="635.6" stroke="#e8601c" stroke-width="1.2"/>
<line x1="549" y1="694.4" x2="551" y2="694.4" stroke="#e8601c" stroke-width="1.2"/>
<line x1="549" y1="400.8" x2="551" y2="400.8" stroke="#e8601c" stroke-width="1.2"/>
<line x1="917.4" y1="399" x2="917.4" y2="695.5" stroke="#f0b000" stroke-width="1.3"/>
<line x1="917.4" y1="425.8" x2="921.5" y2="425.8" stroke="#f0b000" stroke-width="1.5"/>
<text x="924.3" y="430.1" font-family='"Liberation Sans", sans-serif' font-size="16" fill="#f0b000" stroke="#f0b000" stroke-width="0.3" text-anchor="start" textLength="29" lengthAdjust="spacingAndGlyphs" font-weight="normal">630</text>
<line x1="917.4" y1="493.2" x2="921.5" y2="493.2" stroke="#f0b000" stroke-width="1.5"/>
<text x="924.3" y="497.50000000000006" font-family='"Liberation Sans", sans-serif' font-size="16" fill="#f0b000" stroke="#f0b000" stroke-width="0.3" text-anchor="start" textLength="29" lengthAdjust="spacingAndGlyphs" font-weight="normal">625</text>
<line x1="917.4" y1="560.6" x2="921.5" y2="560.6" stroke="#f0b000" stroke-width="1.5"/>
<text x="924.3" y="564.9" font-family='"Liberation Sans", sans-serif' font-size="16" fill="#f0b000" stroke="#f0b000" stroke-width="0.3" text-anchor="start" textLength="29" lengthAdjust="spacingAndGlyphs" font-weight="normal">620</text>
<line x1="917.4" y1="628.0" x2="921.5" y2="628.0" stroke="#f0b000" stroke-width="1.5"/>
<text x="924.3" y="632.3" font-family='"Liberation Sans", sans-serif' font-size="16" fill="#f0b000" stroke="#f0b000" stroke-width="0.3" text-anchor="start" textLength="29" lengthAdjust="spacingAndGlyphs" font-weight="normal">615</text>
<line x1="917.4" y1="695.4" x2="921.5" y2="695.4" stroke="#f0b000" stroke-width="1.5"/>
<text x="924.3" y="699.7" font-family='"Liberation Sans", sans-serif' font-size="16" fill="#f0b000" stroke="#f0b000" stroke-width="0.3" text-anchor="start" textLength="29" lengthAdjust="spacingAndGlyphs" font-weight="normal">610</text>
<line x1="917.4" y1="459.5" x2="919.6" y2="459.5" stroke="#f0b000" stroke-width="1.2"/>
<line x1="917.4" y1="526.9" x2="919.6" y2="526.9" stroke="#f0b000" stroke-width="1.2"/>
<line x1="917.4" y1="594.3" x2="919.6" y2="594.3" stroke="#f0b000" stroke-width="1.2"/>
<line x1="917.4" y1="661.7" x2="919.6" y2="661.7" stroke="#f0b000" stroke-width="1.2"/>
<line x1="958.1" y1="399" x2="958.1" y2="695.5" stroke="#9030a0" stroke-width="1.3"/>
<line x1="958.1" y1="422.6" x2="962.5" y2="422.6" stroke="#9030a0" stroke-width="1.5"/>
<text x="965.6" y="426.35" font-family='"Liberation Sans", sans-serif' font-size="16" fill="#9030a0" stroke="#9030a0" stroke-width="0.3" text-anchor="start" textLength="28" lengthAdjust="spacingAndGlyphs" font-weight="normal">840</text>
<line x1="958.1" y1="468.0" x2="962.5" y2="468.0" stroke="#9030a0" stroke-width="1.5"/>
<text x="965.6" y="471.75" font-family='"Liberation Sans", sans-serif' font-size="16" fill="#9030a0" stroke="#9030a0" stroke-width="0.3" text-anchor="start" textLength="28" lengthAdjust="spacingAndGlyphs" font-weight="normal">820</text>
<line x1="958.1" y1="513.4" x2="962.5" y2="513.4" stroke="#9030a0" stroke-width="1.5"/>
<text x="965.6" y="517.15" font-family='"Liberation Sans", sans-serif' font-size="16" fill="#9030a0" stroke="#9030a0" stroke-width="0.3" text-anchor="start" textLength="28" lengthAdjust="spacingAndGlyphs" font-weight="normal">800</text>
<line x1="958.1" y1="558.8" x2="962.5" y2="558.8" stroke="#9030a0" stroke-width="1.5"/>
<text x="965.6" y="562.55" font-family='"Liberation Sans", sans-serif' font-size="16" fill="#9030a0" stroke="#9030a0" stroke-width="0.3" text-anchor="start" textLength="28" lengthAdjust="spacingAndGlyphs" font-weight="normal">780</text>
<line x1="958.1" y1="604.2" x2="962.5" y2="604.2" stroke="#9030a0" stroke-width="1.5"/>
<text x="965.6" y="607.95" font-family='"Liberation Sans", sans-serif' font-size="16" fill="#9030a0" stroke="#9030a0" stroke-width="0.3" text-anchor="start" textLength="28" lengthAdjust="spacingAndGlyphs" font-weight="normal">760</text>
<line x1="958.1" y1="649.6" x2="962.5" y2="649.6" stroke="#9030a0" stroke-width="1.5"/>
<text x="965.6" y="653.35" font-family='"Liberation Sans", sans-serif' font-size="16" fill="#9030a0" stroke="#9030a0" stroke-width="0.3" text-anchor="start" textLength="28" lengthAdjust="spacingAndGlyphs" font-weight="normal">740</text>
<line x1="958.1" y1="695.0" x2="962.5" y2="695.0" stroke="#9030a0" stroke-width="1.5"/>
<text x="965.6" y="698.75" font-family='"Liberation Sans", sans-serif' font-size="16" fill="#9030a0" stroke="#9030a0" stroke-width="0.3" text-anchor="start" textLength="28" lengthAdjust="spacingAndGlyphs" font-weight="normal">720</text>
<line x1="958.1" y1="445.3" x2="960.5" y2="445.3" stroke="#9030a0" stroke-width="1.2"/>
<line x1="958.1" y1="490.7" x2="960.5" y2="490.7" stroke="#9030a0" stroke-width="1.2"/>
<line x1="958.1" y1="536.1" x2="960.5" y2="536.1" stroke="#9030a0" stroke-width="1.2"/>
<line x1="958.1" y1="581.5" x2="960.5" y2="581.5" stroke="#9030a0" stroke-width="1.2"/>
<line x1="958.1" y1="626.9" x2="960.5" y2="626.9" stroke="#9030a0" stroke-width="1.2"/>
<line x1="958.1" y1="672.3" x2="960.5" y2="672.3" stroke="#9030a0" stroke-width="1.2"/>
<polyline points="618.0,640.0 624.5,639.4 631.0,638.7 637.5,639.4 643.9,642.1 650.4,642.7 656.9,642.7 663.4,634.1 669.9,642.1 676.4,636.1 682.9,634.7 689.4,636.1 695.8,636.7 702.3,632.7 708.8,615.4 715.3,584.1 721.8,540.7 728.3,501.4 734.8,463.4 741.3,442.0 747.7,442.7 754.2,440.0 760.7,435.4 767.2,447.4 773.7,441.4 780.2,435.4 786.7,425.4 793.1,440.7 799.6,443.4 806.1,435.4 812.6,437.4 819.1,438.7 825.6,438.7 832.1,434.7 838.6,438.7 845.0,434.7 851.5,438.7 858.0,436.0 864.5,438.0 871.0,438.7 877.5,440.7 884.0,438.7 890.5,438.0 896.9,440.7 903.4,442.7" fill="none" stroke="#1670c0" stroke-width="1.1"/>
<circle cx="618.0" cy="640.0" r="5" fill="url(#mB)"/>
<circle cx="624.5" cy="639.4" r="5" fill="url(#mB)"/>
<circle cx="631.0" cy="638.7" r="5" fill="url(#mB)"/>
<circle cx="637.5" cy="639.4" r="5" fill="url(#mB)"/>
<circle cx="643.9" cy="642.1" r="5" fill="url(#mB)"/>
<circle cx="650.4" cy="642.7" r="5" fill="url(#mB)"/>
<circle cx="656.9" cy="642.7" r="5" fill="url(#mB)"/>
<circle cx="663.4" cy="634.1" r="5" fill="url(#mB)"/>
<circle cx="669.9" cy="642.1" r="5" fill="url(#mB)"/>
<circle cx="676.4" cy="636.1" r="5" fill="url(#mB)"/>
<circle cx="682.9" cy="634.7" r="5" fill="url(#mB)"/>
<circle cx="689.4" cy="636.1" r="5" fill="url(#mB)"/>
<circle cx="695.8" cy="636.7" r="5" fill="url(#mB)"/>
<circle cx="702.3" cy="632.7" r="5" fill="url(#mB)"/>
<circle cx="708.8" cy="615.4" r="5" fill="url(#mB)"/>
<circle cx="715.3" cy="584.1" r="5" fill="url(#mB)"/>
<circle cx="721.8" cy="540.7" r="5" fill="url(#mB)"/>
<circle cx="728.3" cy="501.4" r="5" fill="url(#mB)"/>
<circle cx="734.8" cy="463.4" r="5" fill="url(#mB)"/>
<circle cx="741.3" cy="442.0" r="5" fill="url(#mB)"/>
<circle cx="747.7" cy="442.7" r="5" fill="url(#mB)"/>
<circle cx="754.2" cy="440.0" r="5" fill="url(#mB)"/>
<circle cx="760.7" cy="435.4" r="5" fill="url(#mB)"/>
<circle cx="767.2" cy="447.4" r="5" fill="url(#mB)"/>
<circle cx="773.7" cy="441.4" r="5" fill="url(#mB)"/>
<circle cx="780.2" cy="435.4" r="5" fill="url(#mB)"/>
<circle cx="786.7" cy="425.4" r="5" fill="url(#mB)"/>
<circle cx="793.1" cy="440.7" r="5" fill="url(#mB)"/>
<circle cx="799.6" cy="443.4" r="5" fill="url(#mB)"/>
<circle cx="806.1" cy="435.4" r="5" fill="url(#mB)"/>
<circle cx="812.6" cy="437.4" r="5" fill="url(#mB)"/>
<circle cx="819.1" cy="438.7" r="5" fill="url(#mB)"/>
<circle cx="825.6" cy="438.7" r="5" fill="url(#mB)"/>
<circle cx="832.1" cy="434.7" r="5" fill="url(#mB)"/>
<circle cx="838.6" cy="438.7" r="5" fill="url(#mB)"/>
<circle cx="845.0" cy="434.7" r="5" fill="url(#mB)"/>
<circle cx="851.5" cy="438.7" r="5" fill="url(#mB)"/>
<circle cx="858.0" cy="436.0" r="5" fill="url(#mB)"/>
<circle cx="864.5" cy="438.0" r="5" fill="url(#mB)"/>
<circle cx="871.0" cy="438.7" r="5" fill="url(#mB)"/>
<circle cx="877.5" cy="440.7" r="5" fill="url(#mB)"/>
<circle cx="884.0" cy="438.7" r="5" fill="url(#mB)"/>
<circle cx="890.5" cy="438.0" r="5" fill="url(#mB)"/>
<circle cx="896.9" cy="440.7" r="5" fill="url(#mB)"/>
<circle cx="903.4" cy="442.7" r="5" fill="url(#mB)"/>
<polyline points="618.0,428.0 624.5,431.4 631.0,442.7 637.5,454.0 643.9,462.1 650.4,465.4 656.9,465.4 663.4,458.1 669.9,467.4 676.4,466.7 682.9,472.8 689.4,479.4 695.8,484.8 702.3,485.4 708.8,502.4 715.3,520.0 721.8,533.4 728.3,585.4 734.8,522.0 741.3,466.7 747.7,463.4 754.2,461.4 760.7,454.1 767.2,461.4 773.7,456.1 780.2,457.4 786.7,456.1 793.1,469.4 799.6,455.4 806.1,451.4 812.6,443.0 819.1,438.0 825.6,448.7 832.1,445.4 838.6,464.1 845.0,443.4 851.5,442.7 858.0,451.4 864.5,438.7 871.0,445.4 877.5,435.4 884.0,441.4 890.5,430.7 896.9,434.7 903.4,428.0" fill="none" stroke="#e05416" stroke-width="1.1"/>
<circle cx="618.0" cy="428.0" r="5" fill="url(#mO)"/>
<circle cx="624.5" cy="431.4" r="5" fill="url(#mO)"/>
<circle cx="631.0" cy="442.7" r="5" fill="url(#mO)"/>
<circle cx="637.5" cy="454.0" r="5" fill="url(#mO)"/>
<circle cx="643.9" cy="462.1" r="5" fill="url(#mO)"/>
<circle cx="650.4" cy="465.4" r="5" fill="url(#mO)"/>
<circle cx="656.9" cy="465.4" r="5" fill="url(#mO)"/>
<circle cx="663.4" cy="458.1" r="5" fill="url(#mO)"/>
<circle cx="669.9" cy="467.4" r="5" fill="url(#mO)"/>
<circle cx="676.4" cy="466.7" r="5" fill="url(#mO)"/>
<circle cx="682.9" cy="472.8" r="5" fill="url(#mO)"/>
<circle cx="689.4" cy="479.4" r="5" fill="url(#mO)"/>
<circle cx="695.8" cy="484.8" r="5" fill="url(#mO)"/>
<circle cx="702.3" cy="485.4" r="5" fill="url(#mO)"/>
<circle cx="708.8" cy="502.4" r="5" fill="url(#mO)"/>
<circle cx="715.3" cy="520.0" r="5" fill="url(#mO)"/>
<circle cx="721.8" cy="533.4" r="5" fill="url(#mO)"/>
<circle cx="728.3" cy="585.4" r="5" fill="url(#mO)"/>
<circle cx="734.8" cy="522.0" r="5" fill="url(#mO)"/>
<circle cx="741.3" cy="466.7" r="5" fill="url(#mO)"/>
<circle cx="747.7" cy="463.4" r="5" fill="url(#mO)"/>
<circle cx="754.2" cy="461.4" r="5" fill="url(#mO)"/>
<circle cx="760.7" cy="454.1" r="5" fill="url(#mO)"/>
<circle cx="767.2" cy="461.4" r="5" fill="url(#mO)"/>
<circle cx="773.7" cy="456.1" r="5" fill="url(#mO)"/>
<circle cx="780.2" cy="457.4" r="5" fill="url(#mO)"/>
<circle cx="786.7" cy="456.1" r="5" fill="url(#mO)"/>
<circle cx="793.1" cy="469.4" r="5" fill="url(#mO)"/>
<circle cx="799.6" cy="455.4" r="5" fill="url(#mO)"/>
<circle cx="806.1" cy="451.4" r="5" fill="url(#mO)"/>
<circle cx="812.6" cy="443.0" r="5" fill="url(#mO)"/>
<circle cx="819.1" cy="438.0" r="5" fill="url(#mO)"/>
<circle cx="825.6" cy="448.7" r="5" fill="url(#mO)"/>
<circle cx="832.1" cy="445.4" r="5" fill="url(#mO)"/>
<circle cx="838.6" cy="464.1" r="5" fill="url(#mO)"/>
<circle cx="845.0" cy="443.4" r="5" fill="url(#mO)"/>
<circle cx="851.5" cy="442.7" r="5" fill="url(#mO)"/>
<circle cx="858.0" cy="451.4" r="5" fill="url(#mO)"/>
<circle cx="864.5" cy="438.7" r="5" fill="url(#mO)"/>
<circle cx="871.0" cy="445.4" r="5" fill="url(#mO)"/>
<circle cx="877.5" cy="435.4" r="5" fill="url(#mO)"/>
<circle cx="884.0" cy="441.4" r="5" fill="url(#mO)"/>
<circle cx="890.5" cy="430.7" r="5" fill="url(#mO)"/>
<circle cx="896.9" cy="434.7" r="5" fill="url(#mO)"/>
<circle cx="903.4" cy="428.0" r="5" fill="url(#mO)"/>
<polyline points="618.0,641.4 624.5,630.7 631.0,630.7 637.5,630.7 643.9,611.4 650.4,590.0 656.9,600.7 663.4,590.0 669.9,604.0 676.4,610.0 682.9,590.0 689.4,595.4 695.8,589.3 702.3,589.3 708.8,529.4 715.3,518.7 721.8,529.4 728.3,487.4 734.8,487.4 741.3,487.4 747.7,487.4 754.2,487.4 760.7,487.4 767.2,497.4 773.7,497.4 780.2,487.4 786.7,487.4 793.1,497.4 799.6,487.4 806.1,487.4 812.6,487.4 819.1,487.4 825.6,477.4 832.1,487.4 838.6,487.4 845.0,487.3 851.5,487.3 858.0,497.6 864.5,497.6 871.0,487.0 877.5,528.9 884.0,497.6 890.5,487.0 896.9,518.6 903.4,508.0" fill="none" stroke="#f0b020" stroke-width="1.1"/>
<circle cx="618.0" cy="641.4" r="5" fill="url(#mG)"/>
<circle cx="624.5" cy="630.7" r="5" fill="url(#mG)"/>
<circle cx="631.0" cy="630.7" r="5" fill="url(#mG)"/>
<circle cx="637.5" cy="630.7" r="5" fill="url(#mG)"/>
<circle cx="643.9" cy="611.4" r="5" fill="url(#mG)"/>
<circle cx="650.4" cy="590.0" r="5" fill="url(#mG)"/>
<circle cx="656.9" cy="600.7" r="5" fill="url(#mG)"/>
<circle cx="663.4" cy="590.0" r="5" fill="url(#mG)"/>
<circle cx="669.9" cy="604.0" r="5" fill="url(#mG)"/>
<circle cx="676.4" cy="610.0" r="5" fill="url(#mG)"/>
<circle cx="682.9" cy="590.0" r="5" fill="url(#mG)"/>
<circle cx="689.4" cy="595.4" r="5" fill="url(#mG)"/>
<circle cx="695.8" cy="589.3" r="5" fill="url(#mG)"/>
<circle cx="702.3" cy="589.3" r="5" fill="url(#mG)"/>
<circle cx="708.8" cy="529.4" r="5" fill="url(#mG)"/>
<circle cx="715.3" cy="518.7" r="5" fill="url(#mG)"/>
<circle cx="721.8" cy="529.4" r="5" fill="url(#mG)"/>
<circle cx="728.3" cy="487.4" r="5" fill="url(#mG)"/>
<circle cx="734.8" cy="487.4" r="5" fill="url(#mG)"/>
<circle cx="741.3" cy="487.4" r="5" fill="url(#mG)"/>
<circle cx="747.7" cy="487.4" r="5" fill="url(#mG)"/>
<circle cx="754.2" cy="487.4" r="5" fill="url(#mG)"/>
<circle cx="760.7" cy="487.4" r="5" fill="url(#mG)"/>
<circle cx="767.2" cy="497.4" r="5" fill="url(#mG)"/>
<circle cx="773.7" cy="497.4" r="5" fill="url(#mG)"/>
<circle cx="780.2" cy="487.4" r="5" fill="url(#mG)"/>
<circle cx="786.7" cy="487.4" r="5" fill="url(#mG)"/>
<circle cx="793.1" cy="497.4" r="5" fill="url(#mG)"/>
<circle cx="799.6" cy="487.4" r="5" fill="url(#mG)"/>
<circle cx="806.1" cy="487.4" r="5" fill="url(#mG)"/>
<circle cx="812.6" cy="487.4" r="5" fill="url(#mG)"/>
<circle cx="819.1" cy="487.4" r="5" fill="url(#mG)"/>
<circle cx="825.6" cy="477.4" r="5" fill="url(#mG)"/>
<circle cx="832.1" cy="487.4" r="5" fill="url(#mG)"/>
<circle cx="838.6" cy="487.4" r="5" fill="url(#mG)"/>
<circle cx="845.0" cy="487.3" r="5" fill="url(#mG)"/>
<circle cx="851.5" cy="487.3" r="5" fill="url(#mG)"/>
<circle cx="858.0" cy="497.6" r="5" fill="url(#mG)"/>
<circle cx="864.5" cy="497.6" r="5" fill="url(#mG)"/>
<circle cx="871.0" cy="487.0" r="5" fill="url(#mG)"/>
<circle cx="877.5" cy="528.9" r="5" fill="url(#mG)"/>
<circle cx="884.0" cy="497.6" r="5" fill="url(#mG)"/>
<circle cx="890.5" cy="487.0" r="5" fill="url(#mG)"/>
<circle cx="896.9" cy="518.6" r="5" fill="url(#mG)"/>
<circle cx="903.4" cy="508.0" r="5" fill="url(#mG)"/>
<polyline points="618.0,657.4 624.5,657.4 631.0,656.1 637.5,656.1 643.9,655.8 650.4,656.1 656.9,655.8 663.4,656.1 669.9,655.8 676.4,654.1 682.9,654.5 689.4,655.8 695.8,654.1 702.3,655.8 708.8,654.6 715.3,656.0 721.8,654.6 728.3,654.6 734.8,510.5 741.3,510.5 747.7,510.5 754.2,510.5 760.7,510.5 767.2,510.5 773.7,510.5 780.2,510.5 786.7,510.5 793.1,510.5 799.6,510.5 806.1,510.5 812.6,510.5 819.1,510.5 825.6,510.5 832.1,510.5 838.6,510.5 845.0,510.5 851.5,510.5 858.0,510.5 864.5,510.5 871.0,489.2 877.5,510.7 884.0,510.7 890.5,488.7 896.9,488.7 903.4,510.7" fill="none" stroke="#8030a0" stroke-width="1.1"/>
<circle cx="618.0" cy="657.4" r="5" fill="url(#mP)"/>
<circle cx="624.5" cy="657.4" r="5" fill="url(#mP)"/>
<circle cx="631.0" cy="656.1" r="5" fill="url(#mP)"/>
<circle cx="637.5" cy="656.1" r="5" fill="url(#mP)"/>
<circle cx="643.9" cy="655.8" r="5" fill="url(#mP)"/>
<circle cx="650.4" cy="656.1" r="5" fill="url(#mP)"/>
<circle cx="656.9" cy="655.8" r="5" fill="url(#mP)"/>
<circle cx="663.4" cy="656.1" r="5" fill="url(#mP)"/>
<circle cx="669.9" cy="655.8" r="5" fill="url(#mP)"/>
<circle cx="676.4" cy="654.1" r="5" fill="url(#mP)"/>
<circle cx="682.9" cy="654.5" r="5" fill="url(#mP)"/>
<circle cx="689.4" cy="655.8" r="5" fill="url(#mP)"/>
<circle cx="695.8" cy="654.1" r="5" fill="url(#mP)"/>
<circle cx="702.3" cy="655.8" r="5" fill="url(#mP)"/>
<circle cx="708.8" cy="654.6" r="5" fill="url(#mP)"/>
<circle cx="715.3" cy="656.0" r="5" fill="url(#mP)"/>
<circle cx="721.8" cy="654.6" r="5" fill="url(#mP)"/>
<circle cx="728.3" cy="654.6" r="5" fill="url(#mP)"/>
<circle cx="734.8" cy="510.5" r="5" fill="url(#mP)"/>
<circle cx="741.3" cy="510.5" r="5" fill="url(#mP)"/>
<circle cx="747.7" cy="510.5" r="5" fill="url(#mP)"/>
<circle cx="754.2" cy="510.5" r="5" fill="url(#mP)"/>
<circle cx="760.7" cy="510.5" r="5" fill="url(#mP)"/>
<circle cx="767.2" cy="510.5" r="5" fill="url(#mP)"/>
<circle cx="773.7" cy="510.5" r="5" fill="url(#mP)"/>
<circle cx="780.2" cy="510.5" r="5" fill="url(#mP)"/>
<circle cx="786.7" cy="510.5" r="5" fill="url(#mP)"/>
<circle cx="793.1" cy="510.5" r="5" fill="url(#mP)"/>
<circle cx="799.6" cy="510.5" r="5" fill="url(#mP)"/>
<circle cx="806.1" cy="510.5" r="5" fill="url(#mP)"/>
<circle cx="812.6" cy="510.5" r="5" fill="url(#mP)"/>
<circle cx="819.1" cy="510.5" r="5" fill="url(#mP)"/>
<circle cx="825.6" cy="510.5" r="5" fill="url(#mP)"/>
<circle cx="832.1" cy="510.5" r="5" fill="url(#mP)"/>
<circle cx="838.6" cy="510.5" r="5" fill="url(#mP)"/>
<circle cx="845.0" cy="510.5" r="5" fill="url(#mP)"/>
<circle cx="851.5" cy="510.5" r="5" fill="url(#mP)"/>
<circle cx="858.0" cy="510.5" r="5" fill="url(#mP)"/>
<circle cx="864.5" cy="510.5" r="5" fill="url(#mP)"/>
<circle cx="871.0" cy="489.2" r="5" fill="url(#mP)"/>
<circle cx="877.5" cy="510.7" r="5" fill="url(#mP)"/>
<circle cx="884.0" cy="510.7" r="5" fill="url(#mP)"/>
<circle cx="890.5" cy="488.7" r="5" fill="url(#mP)"/>
<circle cx="896.9" cy="488.7" r="5" fill="url(#mP)"/>
<circle cx="903.4" cy="510.7" r="5" fill="url(#mP)"/>
<line x1="603" y1="370.3" x2="629.8" y2="370.3" stroke="#1670c0" stroke-width="1.2"/>
<circle cx="616.4" cy="370.3" r="5.3" fill="url(#mB)"/>
<text x="634.6" y="373.8" font-family='"Liberation Sans", sans-serif' font-size="16" fill="#1a7ad0" stroke="#1a7ad0" stroke-width="0.3" text-anchor="start" textLength="125.5" lengthAdjust="spacingAndGlyphs" font-weight="normal">PM6 0-0 intensity</text>
<line x1="766.3" y1="370.3" x2="793" y2="370.3" stroke="#e05416" stroke-width="1.2"/>
<circle cx="779.6" cy="370.3" r="5.3" fill="url(#mO)"/>
<text x="798.3" y="373.8" font-family='"Liberation Sans", sans-serif' font-size="16" fill="#e8601c" stroke="#e8601c" stroke-width="0.3" text-anchor="start" textLength="112.9" lengthAdjust="spacingAndGlyphs" font-weight="normal">N3 0-0 intensity</text>
<line x1="603" y1="390.3" x2="629.8" y2="390.3" stroke="#f0b020" stroke-width="1.2"/>
<circle cx="616.4" cy="390.3" r="5.3" fill="url(#mG)"/>
<text x="634.6" y="393.8" font-family='"Liberation Sans", sans-serif' font-size="16" fill="#f0b000" stroke="#f0b000" stroke-width="0.3" text-anchor="start" textLength="122.3" lengthAdjust="spacingAndGlyphs" font-weight="normal">PM6 0-0 location</text>
<line x1="766.3" y1="390.3" x2="793" y2="390.3" stroke="#8030a0" stroke-width="1.2"/>
<circle cx="779.6" cy="390.3" r="5.3" fill="url(#mP)"/>
<text x="798.3" y="393.8" font-family='"Liberation Sans", sans-serif' font-size="16" fill="#9030a0" stroke="#9030a0" stroke-width="0.3" text-anchor="start" textLength="107.6" lengthAdjust="spacingAndGlyphs" font-weight="normal">N3 0-0 location</text></svg></body></html>
